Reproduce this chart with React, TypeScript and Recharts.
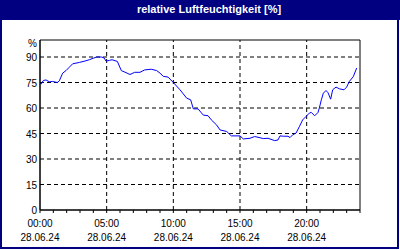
import React from 'react';
import { LineChart, Line, XAxis, YAxis, ReferenceLine, ReferenceArea } from 'recharts';

const TITLE = 'relative Luftfeuchtigkeit [%]';
const DATE_LABEL = '28.06.24';

const hours = [
  0.0, 0.1, 0.25, 0.45, 0.7, 0.95, 1.3, 1.45, 1.7, 1.95, 2.2, 2.45, 2.95, 3.45, 3.7, 4.0,
  4.25, 4.6, 4.8, 4.95, 5.2, 5.4, 5.8, 6.1, 6.45, 6.75, 7.1, 7.5, 7.85, 8.35, 8.75, 9.0,
  9.25, 9.6, 10.0, 10.5, 11.0, 11.3, 11.5, 11.85, 12.25, 12.6, 12.85, 13.25, 13.5, 14.0,
  14.35, 15.0, 15.25, 15.75, 16.1, 16.35, 16.75, 17.1, 17.6, 17.85, 18.0, 18.25, 18.6,
  18.75, 18.95, 19.2, 19.45, 19.7, 19.95, 20.2, 20.35, 20.6, 20.85, 20.95, 21.1, 21.25,
  21.45, 21.6, 21.8, 21.95, 22.2, 22.45, 22.8, 23.0, 23.2, 23.5, 23.75,
];

const humidity = [
  74.5, 74.2, 76.2, 76.5, 75.4, 75.6, 75, 76, 80.5, 82, 84, 86, 86.8, 87.8, 88.4, 89.3,
  90, 90, 89.5, 87.6, 88, 88.4, 87.4, 82, 80.8, 79.7, 81, 81, 82.4, 82.8, 82, 80.5,
  78.6, 78.2, 75, 70.7, 65.8, 64.8, 59.5, 59.5, 55.8, 55.5, 53, 50, 47.1, 46.2,
  43.6, 43.6, 41.8, 42.2, 43.2, 42.8, 42, 42.2, 40.8, 41.2, 43.6, 43.4, 43.4,
  42.6, 44.2, 45.2, 49, 53, 55, 57, 57.4, 55.4, 57.4, 60, 64.8, 68.7,
  70.3, 69, 65.2, 70.7, 72.3, 71.3, 70.7, 72.3, 75.6, 78.5, 83.5,
];

const xTicks = [0, 1, 2, 3, 4, 5, 6, 7, 8, 9, 10, 11, 12, 13, 14, 15, 16, 17, 18, 19, 20, 21, 22, 23, 24];
const xLabelHours = [0, 5, 10, 15, 20];
const yTicks = [0, 15, 30, 45, 60, 75, 90, 100];
const yGrid = [15, 30, 45, 60, 75, 90];
const xGrid = [5, 10, 15, 20];
const yUnitTick = 100;

const data = hours.map((h, i) => ({ h, v: humidity[i] }));

const FONT = '"Liberation Sans", Arial, sans-serif';

const pad = (n: number) => (n < 10 ? '0' + n : String(n));

const XTick = (props: any) => {
  const { x, y, payload } = props;
  const v = payload.value as number;
  if (xLabelHours.indexOf(v) < 0) return null;
  return (
    <g>
      <text x={x} y={y} dy={12} textAnchor="middle" fontSize={10} fontFamily={FONT} fill="#000">
        {pad(v) + ':00'}
      </text>
      <text x={x} y={y} dy={26} textAnchor="middle" fontSize={10} fontFamily={FONT} fill="#000">
        {DATE_LABEL}
      </text>
    </g>
  );
};

const YTick = (props: any) => {
  const { x, y, payload } = props;
  const v = payload.value as number;
  const isUnit = v === yUnitTick;
  return (
    <text x={x} y={y} dy={isUnit ? 7 : 4} textAnchor="end" fontSize={10} fontFamily={FONT} fill="#000">
      {isUnit ? '%' : String(v)}
    </text>
  );
};

export default function App() {
  return (
    <div style={{ position: 'absolute', left: 0, top: 0, width: 400, height: 250, background: '#fff', overflow: 'hidden' }}>
      <div style={{ position: 'absolute', left: 0, top: 0, width: 400, height: 20, background: '#000080' }} />
      <div
        style={{
          position: 'absolute',
          left: 18,
          top: 3,
          width: 382,
          textAlign: 'center',
          color: '#fff',
          fontFamily: FONT,
          fontWeight: 'bold',
          fontSize: 11,
          lineHeight: '13px',
        }}
      >
        {TITLE}
      </div>
      <div style={{ position: 'absolute', left: 0, top: 0 }}>
        <LineChart width={400} height={250} data={data} margin={{ top: 40, right: 40, bottom: 0, left: 0 }}>
          <XAxis
            dataKey="h"
            type="number"
            domain={[0, 24]}
            ticks={xTicks}
            interval={0}
            tick={<XTick />}
            tickSize={3}
            tickMargin={2}
            tickLine={{ stroke: '#000' }}
            axisLine={{ stroke: '#000' }}
            height={40}
          />
          <YAxis
            type="number"
            domain={[0, 100]}
            ticks={yTicks}
            interval={0}
            tick={<YTick />}
            tickSize={0}
            tickMargin={3}
            tickLine={false}
            axisLine={{ stroke: '#000' }}
            width={40}
          />
          {yGrid.map((g) => (
            <ReferenceLine key={'y' + g} y={g} stroke="#000" strokeDasharray="4 3" />
          ))}
          {xGrid.map((g) => (
            <ReferenceLine key={'x' + g} x={g} stroke="#000" strokeDasharray="4 3" />
          ))}
          <ReferenceArea x1={0} x2={24} y1={0} y2={100} fill="none" fillOpacity={0} stroke="#000" strokeOpacity={1} />
          <Line
            type="linear"
            dataKey="v"
            stroke="#0000ff"
            strokeWidth={1}
            dot={false}
            isAnimationActive={false}
          />
        </LineChart>
      </div>
      <div
        style={{
          position: 'absolute',
          left: 0,
          top: 0,
          width: 399,
          height: 249,
          boxSizing: 'border-box',
          border: '2px solid #000080',
          pointerEvents: 'none',
        }}
      />
    </div>
  );
}
